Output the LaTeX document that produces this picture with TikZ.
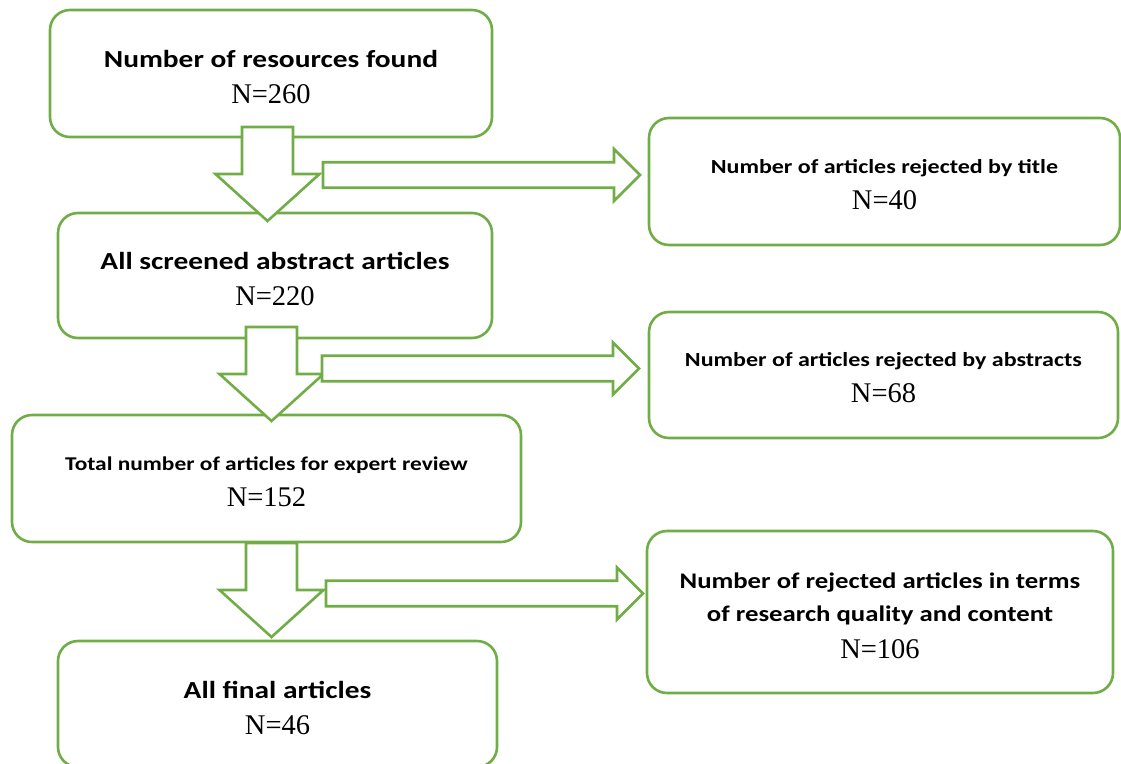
\documentclass[tikz,border=0pt]{standalone}
\usepackage{fontspec}
\setmainfont{Liberation Serif}
\newfontfamily\headfont{Carlito}[FakeStretch=1.2]
\usetikzlibrary{positioning, calc}
\definecolor{boxgreen}{RGB}{112, 173, 71}

\tikzset{
  stage/.style={draw=boxgreen, line width=2.6pt, rounded corners=20pt,
                inner sep=0pt, align=center,
                font=\fontsize{28.5}{36}\selectfont},
  flow/.style={draw=boxgreen, line width=2.6pt, fill=white, line join=miter},
}
\newcommand{\headsize}[1]{\headfont\bfseries\fontsize{#1}{36}\selectfont\rule{0pt}{1em}}
\newcommand{\numsize}{\normalfont\fontsize{28.5}{36}\selectfont}

\begin{document}
\begin{tikzpicture}[x=1pt, y=-1pt]
    \useasboundingbox (0,0) rectangle (1121,763);
    % left column
    \node[stage, minimum width=442pt, minimum height=127pt] (found) at (271,73.5)
        {\headsize{24.5}Number of resources found\\\numsize N=260};
    \node[stage, minimum width=434pt, minimum height=125pt] (screened) at (275,275.5)
        {\headsize{24.5}All screened abstract articles\\\numsize N=220};
    \node[stage, minimum width=509pt, minimum height=127pt] (expert) at (266.5,478.5)
        {\headsize{19.5}Total number of articles for expert review\\\numsize N=152};
    \node[stage, minimum width=439pt, minimum height=126pt] (final) at (277.5,704)
        {\headsize{24.5}All final articles\\\numsize N=46};
    % right column
    \node[stage, minimum width=471pt, minimum height=127pt] (bytitle) at (884.5,181.5)
        {\headsize{20}Number of articles rejected by title\\\numsize N=40};
    \node[stage, minimum width=469pt, minimum height=126pt] (byabstract) at (883.5,375)
        {\headsize{20}Number of articles rejected by abstracts\\\numsize N=68};
    \node[stage, minimum width=466pt, minimum height=162pt] (byquality) at (880,612)
        {\headsize{22.3}Number of rejected articles in terms\\[-3pt]
         \headsize{22.3}of research quality and content\\[1pt]\numsize N=106};
    % block arrows
    \coordinate (d1) at (267.5,127);
    \coordinate (d2) at (271.5,327);
    \coordinate (d3) at (271.5,543);
    \coordinate (r1) at (323,175);
    \coordinate (r2) at (322,368.5);
    \coordinate (r3) at (326,593.5);
    \foreach \p in {d1,d2,d3}
        \draw[flow] (\p) ++(-25.5,0) -- ++(51,0) -- ++(0,47) -- ++(26.5,0)
            -- ++(-52,47) -- ++(-52,-47) -- ++(26.5,0) -- cycle;
    \foreach \p in {r1,r2,r3}
        \draw[flow] (\p) ++(0,-12.75) -- ++(291,0) -- ++(0,-13.25) -- ++(26,26)
            -- ++(-26,26) -- ++(0,-13.25) -- ++(-291,0) -- cycle;
\end{tikzpicture}
\end{document}
